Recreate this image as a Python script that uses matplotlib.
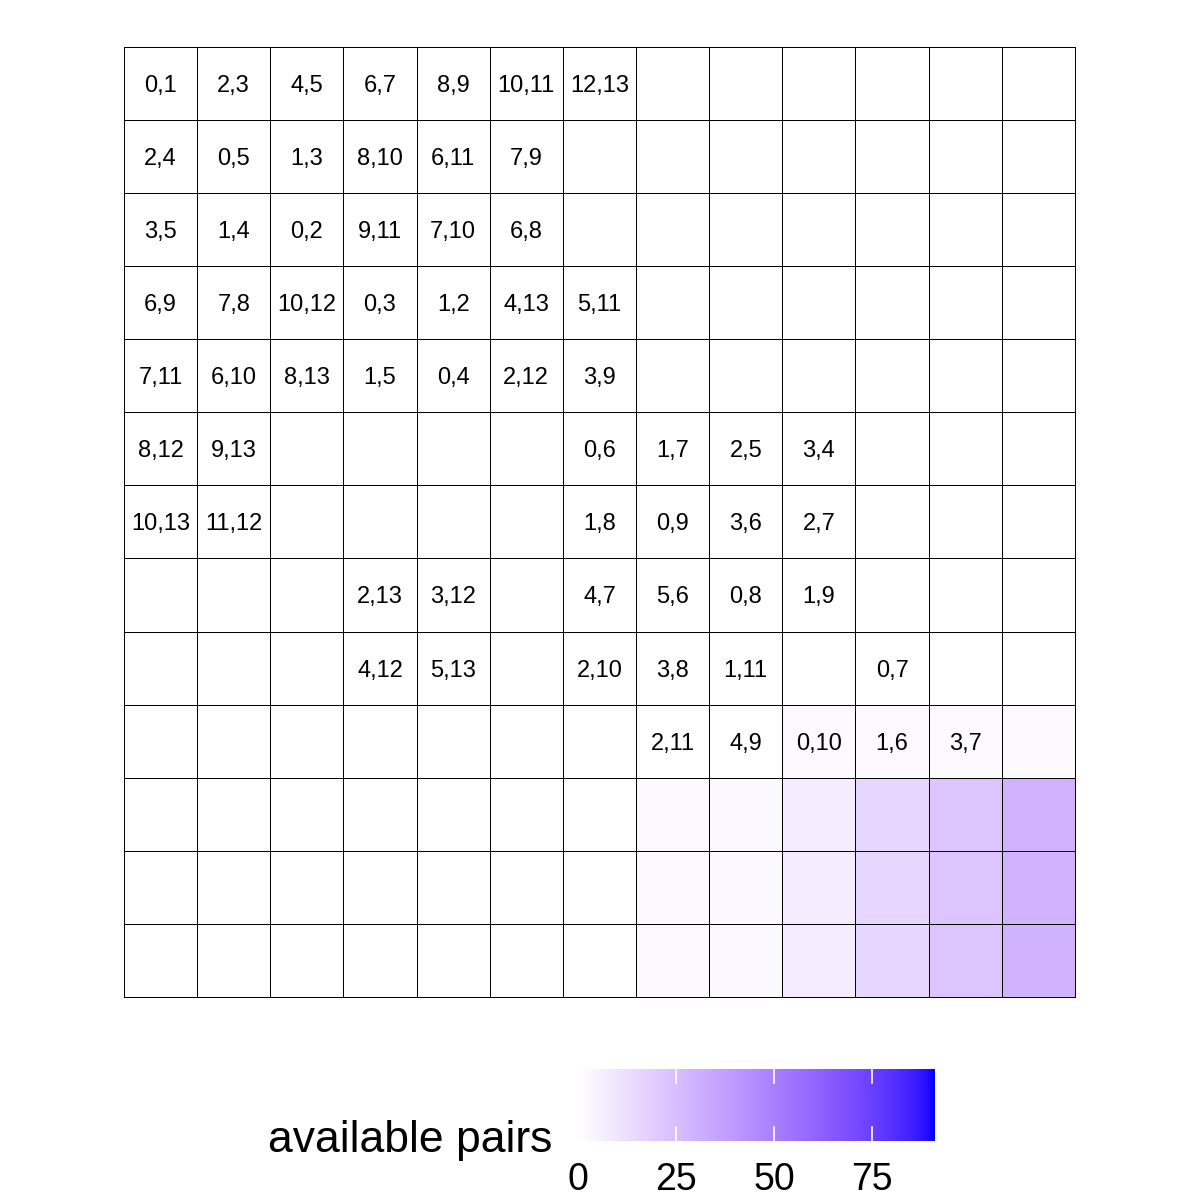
import numpy as np
import matplotlib
matplotlib.use("Agg")
import matplotlib.pyplot as plt
from matplotlib.colors import ListedColormap, Normalize

plt.rcParams['font.family'] = ['Liberation Sans', 'DejaVu Sans']

# pair labels per round (row), one string per slot (column)
labels = [
    ["0,1", "2,3", "4,5", "6,7", "8,9", "10,11", "12,13", "", "", "", "", "", ""],
    ["2,4", "0,5", "1,3", "8,10", "6,11", "7,9", "", "", "", "", "", "", ""],
    ["3,5", "1,4", "0,2", "9,11", "7,10", "6,8", "", "", "", "", "", "", ""],
    ["6,9", "7,8", "10,12", "0,3", "1,2", "4,13", "5,11", "", "", "", "", "", ""],
    ["7,11", "6,10", "8,13", "1,5", "0,4", "2,12", "3,9", "", "", "", "", "", ""],
    ["8,12", "9,13", "", "", "", "", "0,6", "1,7", "2,5", "3,4", "", "", ""],
    ["10,13", "11,12", "", "", "", "", "1,8", "0,9", "3,6", "2,7", "", "", ""],
    ["", "", "", "2,13", "3,12", "", "4,7", "5,6", "0,8", "1,9", "", "", ""],
    ["", "", "", "4,12", "5,13", "", "2,10", "3,8", "1,11", "", "0,7", "", ""],
    ["", "", "", "", "", "", "", "2,11", "4,9", "0,10", "1,6", "3,7", ""],
    ["", "", "", "", "", "", "", "", "", "", "", "", ""],
    ["", "", "", "", "", "", "", "", "", "", "", "", ""],
    ["", "", "", "", "", "", "", "", "", "", "", "", ""],
]

# available pairs per cell (estimated from fill colour)
available = [
    [0, 0, 0, 0, 0, 0, 0, 0, 0, 0, 0, 0, 0],
    [0, 0, 0, 0, 0, 0, 0, 0, 0, 0, 0, 0, 0],
    [0, 0, 0, 0, 0, 0, 0, 0, 0, 0, 0, 0, 0],
    [0, 0, 0, 0, 0, 0, 0, 0, 0, 0, 0, 0, 0],
    [0, 0, 0, 0, 0, 0, 0, 0, 0, 0, 0, 0, 0],
    [0, 0, 0, 0, 0, 0, 0, 0, 0, 0, 0, 0, 0],
    [0, 0, 0, 0, 0, 0, 0, 0, 0, 0, 0, 0, 0],
    [0, 0, 0, 0, 0, 0, 0, 0, 0, 0, 0, 0, 0],
    [0, 0, 0, 0, 0, 0, 0, 0, 0, 0, 0, 0, 0],
    [0, 0, 0, 0, 0, 0, 0, 0, 0, 2, 2, 2, 2],
    [0, 0, 0, 0, 0, 0, 0, 2, 3, 7, 16, 23, 30],
    [0, 0, 0, 0, 0, 0, 0, 2, 3, 7, 16, 23, 30],
    [0, 0, 0, 0, 0, 0, 0, 2, 3, 7, 16, 23, 30],
]
max_pairs = 91
cbar_ticks = [0, 25, 50, 75]


# white -> blue gradient interpolated in CIELAB (like ggplot)
def srgb_to_lab(c):
    c = np.asarray(c, float)
    lin = np.where(c <= 0.04045, c / 12.92, ((c + 0.055) / 1.055) ** 2.4)
    M = np.array([[0.4124, 0.3576, 0.1805],
                  [0.2126, 0.7152, 0.0722],
                  [0.0193, 0.1192, 0.9505]])
    xyz = M @ lin / np.array([0.95047, 1.0, 1.08883])
    f = np.where(xyz > 0.008856, np.cbrt(xyz), 7.787 * xyz + 16 / 116)
    return np.array([116 * f[1] - 16, 500 * (f[0] - f[1]), 200 * (f[1] - f[2])])


def lab_to_srgb(lab):
    L, a, b = lab
    fy = (L + 16) / 116
    fx = fy + a / 500
    fz = fy - b / 200
    f = np.array([fx, fy, fz])
    xyz = np.where(f ** 3 > 0.008856, f ** 3, (f - 16 / 116) / 7.787)
    xyz = xyz * np.array([0.95047, 1.0, 1.08883])
    Minv = np.array([[3.2406, -1.5372, -0.4986],
                     [-0.9689, 1.8758, 0.0415],
                     [0.0557, -0.2040, 1.0570]])
    lin = Minv @ xyz
    c = np.where(lin <= 0.0031308, 12.92 * lin, 1.055 * np.clip(lin, 0, None) ** (1 / 2.4) - 0.055)
    return np.clip(c, 0, 1)


lab_lo = srgb_to_lab([1, 1, 1])
lab_hi = srgb_to_lab([0, 0, 1])
cols = [lab_to_srgb(lab_lo + t * (lab_hi - lab_lo)) for t in np.linspace(0, 1, 256)]
cmap = ListedColormap(cols)
norm = Normalize(0, max_pairs)

n = len(labels)
fig = plt.figure(figsize=(12, 12), dpi=100)
ax = fig.add_axes([0.1033, 0.1692, 0.7925, 0.7917])
mesh = ax.pcolormesh(np.arange(n + 1), np.arange(n + 1), np.array(available),
                     cmap=cmap, norm=norm, edgecolors="black", linewidth=0.7)
mesh.set_clip_on(False)

# baseline offset so the digits sit centred in each cell
fs = 17
cell_px = 0.7917 * 1200 / n
off = 0.716 * fs * 100 / 72 / 2 / cell_px
for r, row in enumerate(labels):
    for c, txt in enumerate(row):
        if txt:
            ax.text(c + 0.5, r + 0.5 + off, txt, ha="center", va="baseline", fontsize=fs)
ax.set_xlim(0, n)
ax.set_ylim(n, 0)
ax.axis("off")

# colour bar legend
cax = fig.add_axes([0.4817, 0.0492, 0.2975, 0.06])
grad = np.linspace(0, max_pairs, 512)[None, :]
cax.imshow(grad, extent=[0, max_pairs, 0, 1], aspect="auto", cmap=cmap, norm=norm)
for t in cbar_ticks:
    cax.plot([t, t], [0, 0.2], color="white", lw=1.2)
    cax.plot([t, t], [0.8, 1], color="white", lw=1.2)
cax.set_xlim(0, max_pairs)
cax.set_ylim(0, 1)
cax.set_yticks([])
cax.set_xticks(cbar_ticks)
cax.tick_params(axis="x", length=0, pad=15, labelsize=27)
for s in cax.spines.values():
    s.set_visible(False)
fig.text(0.46, 0.04, "available pairs", ha="right", va="baseline", fontsize=32)

fig.savefig("out.png", dpi=100, facecolor="white")
